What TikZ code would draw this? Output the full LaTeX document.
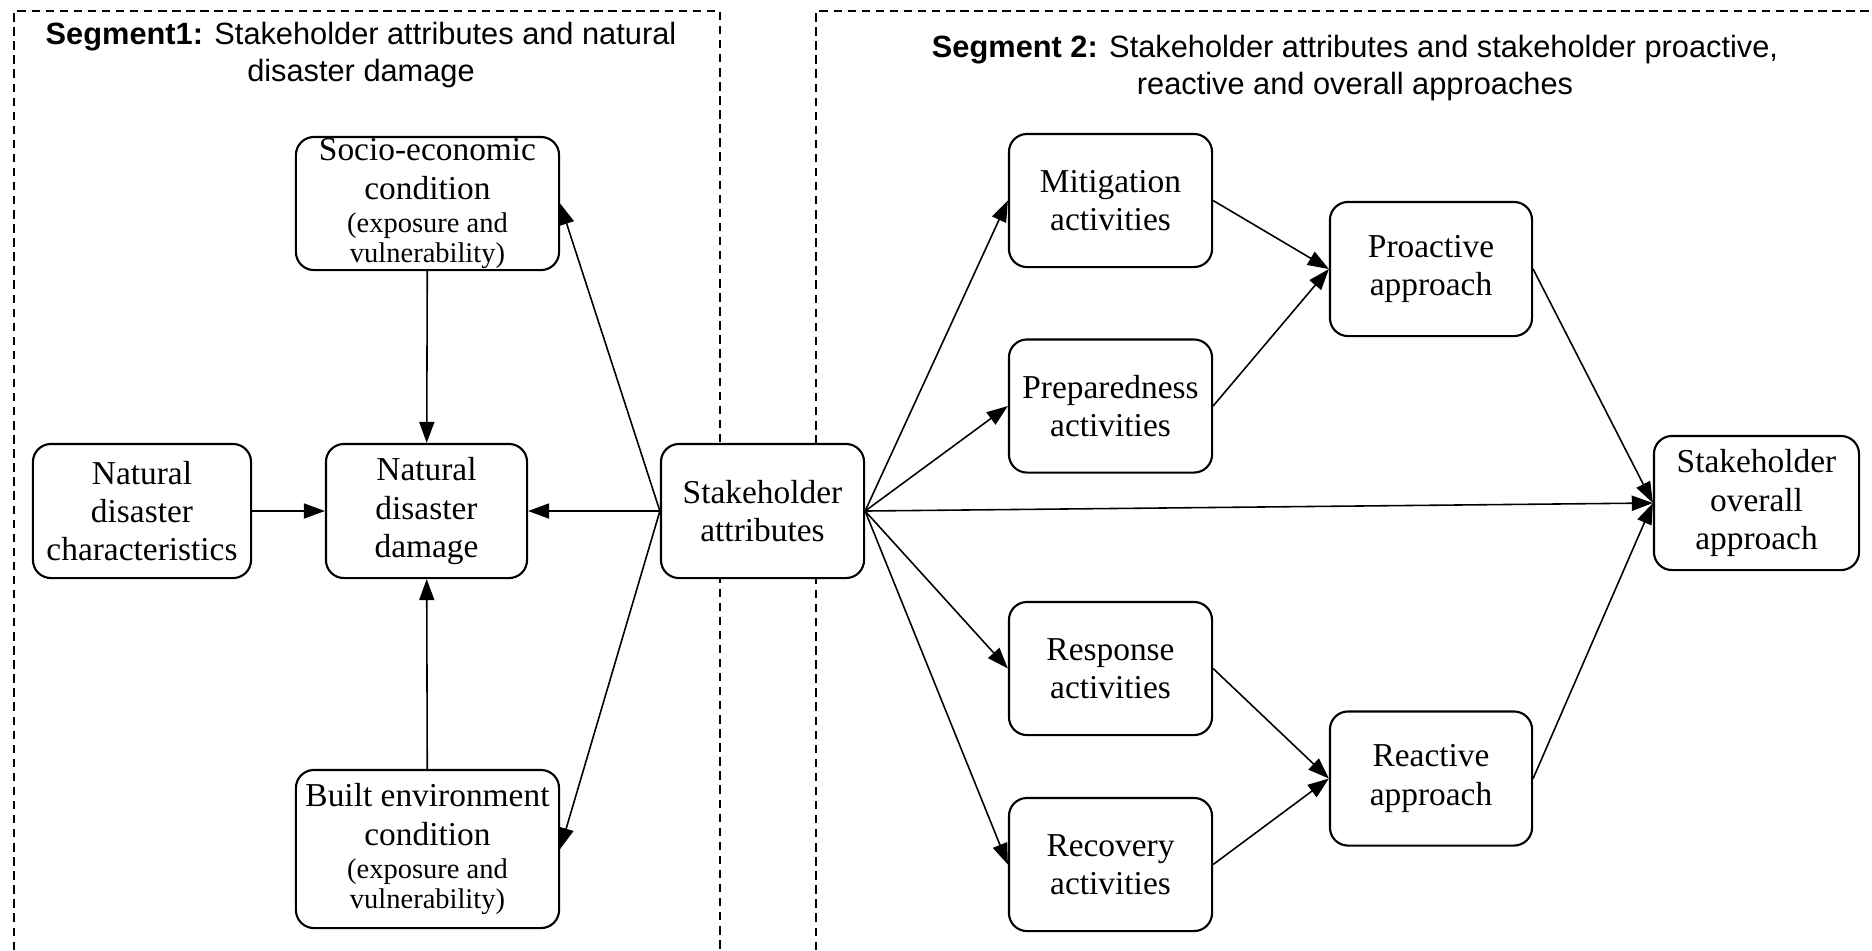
\documentclass[tikz,border=0pt]{standalone}
\usepackage{fontspec}
\setmainfont{Liberation Serif}
\newfontfamily\titlefont{Liberation Sans}
\usetikzlibrary{arrows.meta}
\newcommand\paren[1]{{\fontsize{8.1}{8.9}\selectfont #1}}

\begin{document}
\begin{tikzpicture}[x=0.01cm,y=-0.01cm,
  box/.style={draw, line width=0.6pt, rounded corners=0.18cm, fill=white,
    align=center, inner sep=0pt, font=\fontsize{9.5}{10.9}\selectfont},
  actbox/.style={box, minimum width=2.03cm, minimum height=1.33cm},
  conn/.style={-{Triangle[length=6pt,width=4.3pt]}, line width=0.45pt},
  segframe/.style={dash pattern=on 2.4pt off 1.6pt, line width=0.5pt},
  segtitle/.style={align=center, font=\titlefont\fontsize{8.75}{10.5}\selectfont}]
\useasboundingbox (0,0) rectangle (1872,950);

% segment frames
\draw[segframe] (14,950) -- (14,11) -- (720,11) -- (720,950);
\draw[segframe] (816,950) -- (816,11) -- (1872,11);

% segment titles
\node[segtitle] (title1) at (361,55) {\textbf{Segment1:} Stakeholder attributes and natural\\disaster damage};
\node[segtitle] (title2) at (1355,68) {\textbf{Segment 2:} Stakeholder attributes and stakeholder proactive,\\reactive and overall approaches};

% segment 1 nodes
\node[box, minimum width=2.63cm, minimum height=1.33cm] (socio) at (427.5,203.5)
  {Socio-economic\\condition\\[-1.4pt]\paren{(exposure and}\\[-2.4pt]\paren{vulnerability)}};
\node[box, minimum width=2.18cm, minimum height=1.34cm] (nchar) at (142,511)
  {Natural\\disaster\\characteristics};
\node[box, minimum width=2.01cm, minimum height=1.34cm] (damage) at (426.5,511)
  {Natural\\disaster\\damage};
\node[box, minimum width=2.63cm, minimum height=1.58cm] (built) at (427.5,849)
  {Built environment\\condition\\[-1.4pt]\paren{(exposure and}\\[-2.4pt]\paren{vulnerability)}};

% central node
\node[box, minimum width=2.03cm, minimum height=1.34cm] (stake) at (762.5,511)
  {Stakeholder\\attributes};

% segment 2 nodes
\node[actbox] (mitig) at (1110.5,200.5) {Mitigation\\activities};
\node[actbox] (prep) at (1110.5,406) {Preparedness\\activities};
\node[actbox] (resp) at (1110.5,668.5) {Response\\activities};
\node[actbox] (recov) at (1110.5,864.5) {Recovery\\activities};
\node[box, minimum width=2.02cm, minimum height=1.34cm] (proact) at (1431,269) {Proactive\\approach};
\node[box, minimum width=2.02cm, minimum height=1.34cm] (react) at (1431,778.5) {Reactive\\approach};
\node[box, minimum width=2.05cm, minimum height=1.34cm] (overall) at (1756.5,503) {Stakeholder\\overall\\approach};

% connectors, segment 1
\draw[conn] (socio) -- (damage);
\draw[conn] (built) -- (damage);
\draw[conn] (nchar) -- (damage);
\draw[conn] (stake.west) -- (damage.east);
\draw[conn] (stake.west) -- (socio.east);
\draw[conn] (stake.west) -- (built.east);

% connectors, segment 2
\draw[conn] (stake.east) -- (mitig.west);
\draw[conn] (stake.east) -- (prep.west);
\draw[conn] (stake.east) -- (overall.west);
\draw[conn] (stake.east) -- (resp.west);
\draw[conn] (stake.east) -- (recov.west);
\draw[conn] (mitig.east) -- (proact.west);
\draw[conn] (prep.east) -- (proact.west);
\draw[conn] (resp.east) -- (react.west);
\draw[conn] (recov.east) -- (react.west);
\draw[conn] (proact.east) -- (overall.west);
\draw[conn] (react.east) -- (overall.west);
\end{tikzpicture}
\end{document}
